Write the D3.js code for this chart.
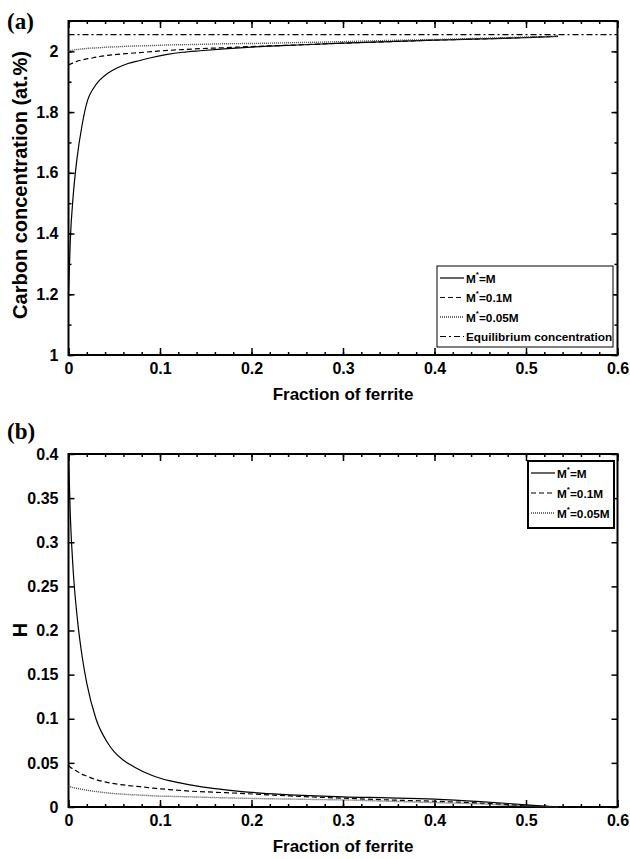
<!DOCTYPE html>
<html>
<head>
<meta charset="utf-8">
<script src="https://cdn.jsdelivr.net/npm/d3@7/dist/d3.min.js"></script>
<style>
  body { margin: 0; background: #fff; }
  svg text { font-family: "Liberation Sans Narrow", "Liberation Sans", Arial, sans-serif; font-weight: bold; fill: #000; }
  .tick line { stroke: #000; stroke-width: 1.5; }
  .domain { display: none; }
</style>
</head>
<body>
<div id="chart"></div>
<script>
// ---- data ----
var xTicks = [0, 0.1, 0.2, 0.3, 0.4, 0.5, 0.6];

// panel (a): carbon concentration
var fracA   = [0, 0.002, 0.005, 0.009, 0.015, 0.021, 0.027, 0.034, 0.043, 0.053, 0.065, 0.078, 0.09, 0.108, 0.125, 0.144, 0.17, 0.2, 0.25, 0.3, 0.35, 0.4, 0.45, 0.5, 0.535];
var solidA  = [1.2, 1.38, 1.52, 1.64, 1.76, 1.84, 1.877, 1.905, 1.928, 1.945, 1.96, 1.97, 1.979, 1.99, 1.997, 2.002, 2.008, 2.014, 2.021, 2.027, 2.032, 2.037, 2.041, 2.045, 2.049];
var dashedA = [1.955, 1.958, 1.962, 1.967, 1.972, 1.976, 1.979, 1.983, 1.987, 1.99, 1.993, 1.996, 1.999, 2.003, 2.006, 2.009, 2.012, 2.016, 2.021, 2.027, 2.032, 2.037, 2.041, 2.046, 2.05];
var dottedA = [2.0, 2.002, 2.004, 2.006, 2.008, 2.01, 2.011, 2.012, 2.014, 2.015, 2.017, 2.018, 2.019, 2.021, 2.022, 2.023, 2.025, 2.026, 2.029, 2.032, 2.036, 2.039, 2.043, 2.047, 2.05];
var eqConc = 2.055;
var yTicksA = [1, 1.2, 1.4, 1.6, 1.8, 2];

// panel (b): H
var fracB   = [0, 0.002, 0.005, 0.01, 0.015, 0.02, 0.03, 0.042, 0.05, 0.06, 0.07, 0.078, 0.085, 0.096, 0.11, 0.133, 0.16, 0.187, 0.21, 0.242, 0.27, 0.3, 0.35, 0.4, 0.45, 0.5, 0.535];
var solidB  = [0.40, 0.33, 0.27, 0.21, 0.17, 0.14, 0.10, 0.074, 0.0625, 0.053, 0.0465, 0.042, 0.0385, 0.034, 0.0298, 0.025, 0.0208, 0.0178, 0.0158, 0.0138, 0.0125, 0.0114, 0.0104, 0.009, 0.0062, 0.0025, 0];
var dashedB = [0.047, 0.045, 0.043, 0.04, 0.037, 0.035, 0.031, 0.028, 0.0265, 0.025, 0.0238, 0.023, 0.0222, 0.021, 0.0198, 0.018, 0.0167, 0.0155, 0.0143, 0.0125, 0.0112, 0.010, 0.008, 0.0065, 0.0045, 0.0015, 0];
var dottedB = [0.024, 0.023, 0.022, 0.021, 0.020, 0.019, 0.0175, 0.016, 0.0152, 0.0145, 0.0139, 0.0135, 0.0131, 0.0125, 0.0121, 0.0115, 0.0107, 0.010, 0.0095, 0.009, 0.0085, 0.008, 0.0065, 0.005, 0.0035, 0.001, 0];
var yTicksB = [0, 0.05, 0.1, 0.15, 0.2, 0.25, 0.3, 0.35, 0.4];

var seriesNames = ["M*=M", "M*=0.1M", "M*=0.05M", "Equilibrium concentration"];

// line styles
var styles = {
  solid:  { dash: null,      stroke: "#000", width: 1.2 },
  dashed: { dash: "5,3",     stroke: "#000", width: 1.2 },
  dotted: { dash: "1,1",     stroke: "#444", width: 1.4 },
  dashdot:{ dash: "6,3,2,3", stroke: "#000", width: 1.1 }
};

var svg = d3.select("#chart").append("svg")
    .attr("width", 630)
    .attr("height", 859);

var left = 68.5, right = 617.5;
var x = d3.scaleLinear().domain([0, 0.6]).range([left, right]);

function zipped(xs, ys) { return xs.map(function(v, i) { return [v, ys[i]]; }); }

function drawPanel(cfg) {
  var y = d3.scaleLinear().domain(cfg.yDomain).range([cfg.bottom, cfg.top]);
  var g = svg.append("g");

  // minor + major x ticks, bottom (with labels) and top (mirror)
  var xMinor = d3.range(0, 0.6001, 0.02);
  g.append("g").attr("transform", "translate(0," + cfg.bottom + ")")
    .call(d3.axisBottom(x).tickValues(xMinor).tickSize(-3).tickFormat(""));
  g.append("g").attr("transform", "translate(0," + cfg.bottom + ")")
    .call(d3.axisBottom(x).tickValues(xTicks).tickSize(-7).tickPadding(8).tickFormat(d3.format("")))
    .selectAll("text").style("font-size", "16px");
  g.append("g").attr("transform", "translate(0," + cfg.top + ")")
    .call(d3.axisTop(x).tickValues(xMinor).tickSize(-3).tickFormat(""));
  g.append("g").attr("transform", "translate(0," + cfg.top + ")")
    .call(d3.axisTop(x).tickValues(xTicks).tickSize(-7).tickFormat(""));

  // y ticks left (labels) and right (mirror)
  if (cfg.yMinor) {
    g.append("g").attr("transform", "translate(" + left + ",0)")
      .call(d3.axisLeft(y).tickValues(cfg.yMinor).tickSize(-3).tickFormat(""));
    g.append("g").attr("transform", "translate(" + right + ",0)")
      .call(d3.axisRight(y).tickValues(cfg.yMinor).tickSize(-3).tickFormat(""));
  }
  g.append("g").attr("transform", "translate(" + left + ",0)")
    .call(d3.axisLeft(y).tickValues(cfg.yTicks).tickSize(-6).tickPadding(10).tickFormat(d3.format("")))
    .selectAll("text").style("font-size", "16px");
  g.append("g").attr("transform", "translate(" + right + ",0)")
    .call(d3.axisRight(y).tickValues(cfg.yTicks).tickSize(-6).tickFormat(""));

  // frame
  g.append("rect")
    .attr("x", left).attr("y", cfg.top)
    .attr("width", right - left).attr("height", cfg.bottom - cfg.top)
    .attr("fill", "none").attr("stroke", "#000").attr("stroke-width", 2);

  var line = d3.line()
    .x(function(d) { return x(d[0]); })
    .y(function(d) { return y(d[1]); })
    .curve(d3.curveMonotoneX);

  cfg.series.forEach(function(s) {
    var st = styles[s.style];
    g.append("path")
      .datum(s.points)
      .attr("d", line)
      .attr("fill", "none")
      .attr("stroke", st.stroke)
      .attr("stroke-width", st.width)
      .attr("stroke-dasharray", st.dash);
  });

  // panel letter
  svg.append("text")
    .attr("x", 7).attr("y", cfg.letterY)
    .style("font-family", "'Liberation Serif', 'Times New Roman', serif")
    .style("font-size", "23px")
    .text(cfg.letter);

  // axis titles
  g.append("text")
    .attr("x", (left + right) / 2).attr("y", cfg.bottom + 45)
    .attr("text-anchor", "middle")
    .style("font-size", "17px")
    .text("Fraction of ferrite");
  g.append("text")
    .attr("transform", "translate(" + 27 + "," + cfg.titleMid + ") rotate(-90)")
    .attr("text-anchor", "middle")
    .style("font-family", "'Liberation Sans', Arial, sans-serif")
    .style("font-size", "20px")
    .text(cfg.yTitle);

  // legend
  var lg = cfg.legend;
  g.append("rect")
    .attr("x", lg.x).attr("y", lg.y).attr("width", lg.w).attr("height", lg.h)
    .attr("fill", "#fff").attr("stroke", "#000").attr("stroke-width", lg.border);
  cfg.series.forEach(function(s, i) {
    var st = styles[s.style];
    var cy = lg.y + lg.first + i * lg.step;
    g.append("line")
      .attr("x1", lg.x + 3).attr("x2", lg.x + 3 + lg.sample)
      .attr("y1", cy).attr("y2", cy)
      .attr("stroke", st.stroke).attr("stroke-width", st.width)
      .attr("stroke-dasharray", st.dash);
    var t = g.append("text")
      .attr("x", lg.x + 5 + lg.sample).attr("y", cy + 4.5)
      .style("font-size", "11.8px");
    var name = s.name;
    if (name.indexOf("M*") === 0) {
      t.append("tspan").text("M");
      t.append("tspan").attr("dy", -6).style("font-size", "8px").text("*");
      t.append("tspan").attr("dy", 6).text(name.slice(2));
    } else {
      t.text(name);
    }
  });
}

drawPanel({
  letter: "(a)", letterY: 29,
  top: 21, bottom: 355, titleMid: 185,
  yDomain: [1, 2.1],
  yTicks: yTicksA,
  yMinor: d3.range(1, 2.101, 0.1),
  yTitle: "Carbon concentration (at.%)",
  series: [
    { name: seriesNames[0], style: "solid",  points: zipped(fracA, solidA) },
    { name: seriesNames[1], style: "dashed", points: zipped(fracA, dashedA) },
    { name: seriesNames[2], style: "dotted", points: zipped(fracA, dottedA) },
    { name: seriesNames[3], style: "dashdot", points: [[0, eqConc], [0.6, eqConc]] }
  ],
  legend: { x: 437, y: 266, w: 176, h: 81, border: 1, first: 12, step: 19.5, sample: 24 }
});

drawPanel({
  letter: "(b)", letterY: 439,
  top: 454, bottom: 807, titleMid: 630,
  yDomain: [0, 0.4],
  yTicks: yTicksB,
  yMinor: null,
  yTitle: "H",
  series: [
    { name: seriesNames[0], style: "solid",  points: zipped(fracB, solidB) },
    { name: seriesNames[1], style: "dashed", points: zipped(fracB, dashedB) },
    { name: seriesNames[2], style: "dotted", points: zipped(fracB, dottedB) }
  ],
  legend: { x: 528, y: 461, w: 86, h: 67, border: 2, first: 12, step: 20, sample: 24 }
});
</script>
</body>
</html>
